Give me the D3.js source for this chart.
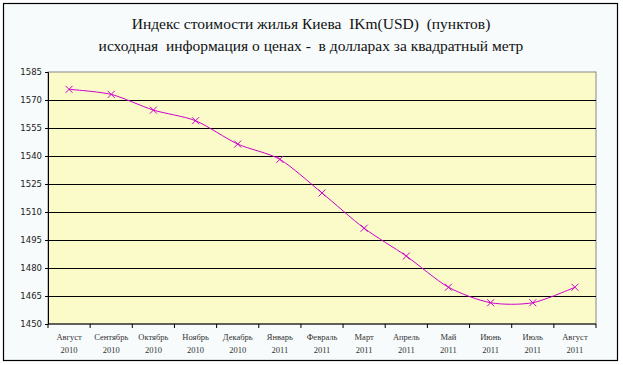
<!DOCTYPE html>
<html>
<head>
<meta charset="utf-8">
<script src="https://cdn.jsdelivr.net/npm/d3@7"></script>
<style>
  html, body { margin: 0; padding: 0; background: #fff; }
  svg { display: block; }
  .title { white-space: pre; }
</style>
</head>
<body>
<div id="chart"></div>
<script>
const titleLines = [
    'Индекс стоимости жилья Киева  IKm(USD)  (пунктов)',
    'исходная  информация о ценах -  в долларах за квадратный метр'
];
const months = ['Август', 'Сентябрь', 'Октябрь', 'Ноябрь', 'Декабрь', 'Январь', 'Февраль',
    'Март', 'Апрель', 'Май', 'Июнь', 'Июль', 'Август'];
const years = ['2010', '2010', '2010', '2010', '2010', '2011', '2011',
    '2011', '2011', '2011', '2011', '2011', '2011'];
const values = [1575.7, 1573, 1564.6, 1558.9, 1546.4, 1538.2, 1520.2,
    1501.3, 1486.4, 1469.7, 1461.4, 1461.4, 1469.7];
const yTicks = [1450, 1465, 1480, 1495, 1510, 1525, 1540, 1555, 1570, 1585];

const width = 623;
const height = 365;
const margin = { top: 72, right: 27, bottom: 41, left: 48 };
const innerW = width - margin.left - margin.right;
const innerH = height - margin.top - margin.bottom;

const svg = d3.select('#chart').append('svg')
    .attr('width', width)
    .attr('height', height);

// chart area frame
svg.append('rect')
    .attr('x', 3.5).attr('y', 3.5)
    .attr('width', 614).attr('height', 357)
    .attr('fill', '#f7fbfb')
    .attr('stroke', '#000')
    .attr('stroke-width', 1.2);

svg.selectAll('text.title')
    .data(titleLines)
    .join('text')
    .attr('class', 'title')
    .attr('x', 311)
    .attr('y', (d, i) => 29 + i * 22)
    .attr('text-anchor', 'middle')
    .attr('font-family', 'Liberation Serif, serif')
    .attr('font-size', 15.5)
    .attr('fill', '#111')
    .text(d => d);

const idx = d3.range(months.length);
const x = d3.scaleBand().domain(idx).range([0, innerW]);
const y = d3.scaleLinear().domain([1450, 1585]).range([innerH, 0]);

const g = svg.append('g').attr('transform', `translate(${margin.left},${margin.top})`);

g.append('rect')
    .attr('width', innerW).attr('height', innerH)
    .attr('fill', '#fbfbc9')
    .attr('stroke', '#888')
    .attr('stroke-width', 1);

// grid
g.selectAll('line.grid')
    .data(yTicks.filter(t => t !== 1450 && t !== 1585))
    .join('line')
    .attr('class', 'grid')
    .attr('x1', 0).attr('x2', innerW)
    .attr('y1', d => Math.round(y(d)) + 0.5)
    .attr('y2', d => Math.round(y(d)) + 0.5)
    .attr('stroke', '#000')
    .attr('stroke-width', 1.2);

// y axis
const yAxis = g.append('g')
    .call(d3.axisLeft(y).tickValues(yTicks).tickSize(3).tickFormat(d3.format('d')));
yAxis.select('.domain').attr('stroke', '#000');
yAxis.selectAll('text')
    .attr('font-family', 'DejaVu Sans, sans-serif')
    .attr('font-size', 8.5)
    .attr('fill', '#222')
    .attr('x', -6);

// x axis with ticks on category boundaries
const xAxis = g.append('g').attr('transform', `translate(0,${innerH})`);
xAxis.append('line')
    .attr('x1', 0).attr('x2', innerW)
    .attr('stroke', '#000').attr('stroke-width', 1.2);
xAxis.selectAll('line.tick')
    .data(d3.range(months.length + 1))
    .join('line')
    .attr('class', 'tick')
    .attr('x1', d => d * x.step()).attr('x2', d => d * x.step())
    .attr('y1', 0).attr('y2', 4)
    .attr('stroke', '#000');

const labels = xAxis.selectAll('g.lab')
    .data(idx)
    .join('g')
    .attr('class', 'lab')
    .attr('transform', d => `translate(${x(d) + x.bandwidth() / 2},0)`);
labels.append('text')
    .attr('y', 16)
    .attr('text-anchor', 'middle')
    .attr('font-family', 'Liberation Serif, serif')
    .attr('font-size', 8.5)
    .attr('fill', '#333')
    .text(d => months[d]);
labels.append('text')
    .attr('y', 29)
    .attr('text-anchor', 'middle')
    .attr('font-family', 'Liberation Serif, serif')
    .attr('font-size', 8.5)
    .attr('fill', '#333')
    .text(d => years[d]);

// series
const px = i => x(i) + x.bandwidth() / 2;
const line = d3.line()
    .x((d, i) => px(i))
    .y(d => y(d))
    .curve(d3.curveCardinal.tension(0.2));

g.append('path')
    .datum(values)
    .attr('d', line)
    .attr('fill', 'none')
    .attr('stroke', '#cc00cc')
    .attr('stroke-width', 1);

const m = 3.5;
g.selectAll('path.mark')
    .data(values)
    .join('path')
    .attr('class', 'mark')
    .attr('transform', (d, i) => `translate(${px(i)},${y(d)})`)
    .attr('d', `M${-m},${-m}L${m},${m}M${-m},${m}L${m},${-m}`)
    .attr('stroke', '#cc00cc')
    .attr('stroke-width', 1)
    .attr('fill', 'none');
</script>
</body>
</html>
